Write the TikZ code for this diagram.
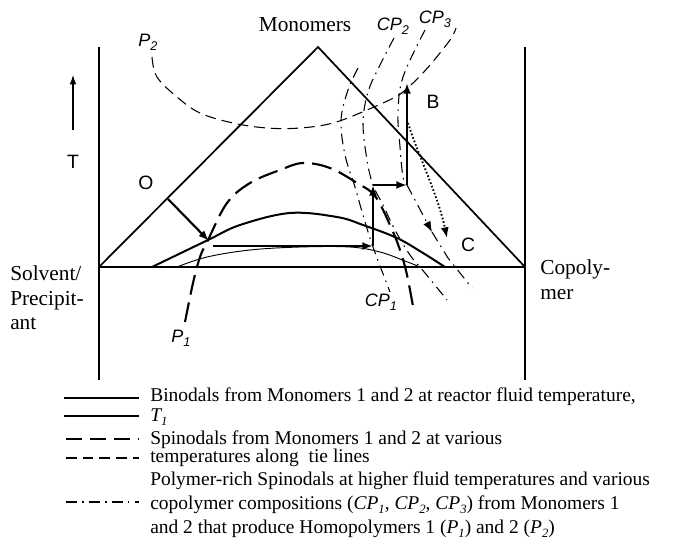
\documentclass[tikz,border=0pt]{standalone}
\usepackage{fontspec}
\setmainfont{Liberation Serif}
\setsansfont{Liberation Sans}
\usetikzlibrary{arrows.meta}
\newcommand{\lowsub}[1]{\raisebox{-0.45ex}{\fontsize{9.5}{10}\selectfont #1}}

\begin{document}
\begin{tikzpicture}[x=7.5pt,y=-7.5pt,
  lab/.style={font=\fontsize{16}{18.4}\selectfont,inner sep=0pt},
  plabel/.style={font=\sffamily\fontsize{14.5}{17}\selectfont,inner sep=0pt},
  cplab/.style={font=\sffamily\itshape\fontsize{13.5}{15}\selectfont,inner sep=0pt},
  leg/.style={font=\fontsize{14.6}{17}\selectfont,anchor=west,inner sep=0pt},
  bino/.style={line width=1.5pt},
  binothin/.style={line width=0.7pt},
  spino/.style={line width=1.6pt,dash pattern=on 15pt off 6pt},
  tieline/.style={line width=0.8pt,dash pattern=on 8pt off 4.5pt},
  cpline/.style={line width=0.8pt,dash pattern=on 8pt off 4pt on 1.2pt off 4pt},
  move/.style={line width=1.6pt,-{Latex[length=8pt,width=6pt]}}]
  \useasboundingbox (0,0) rectangle (67.3,55);

  % Frame and triangle
  \draw[line width=0.8pt] (9.9,4.7) -- (9.9,38.0);
  \draw[line width=0.8pt] (52.5,4.7) -- (52.5,38.0);
  \draw[line width=1.6pt] (9.9,26.7) -- (52.5,26.7);
  \draw[line width=1.3pt] (9.9,26.7) -- (31.8,4.7) -- (52.5,26.7);
  \node[lab] (monomers) at (30.5,2.5) {Monomers};
  \node[lab,align=left,anchor=west] (solvent) at (1.0,29.8) {Solvent/\\Precipit-\\ant};
  \node[lab,align=left,anchor=west] (copolymer) at (54.0,27.95) {Copoly-\\mer};

  % Temperature axis
  \node[plabel] (tlab) at (7.3,16.2) {T};
  \coordinate (tbot) at (7.3,13.0);
  \coordinate (ttop) at (7.3,7.5);
  \draw[line width=0.8pt,-{Latex[length=7pt,width=5pt]}] (tbot) -- (ttop);

  % Binodals
  \draw[bino] plot[smooth,tension=0.6] coordinates {(15.2,26.7) (20.8,24.0) (24.0,22.5) (29.0,21.3) (33.7,21.7) (36.3,22.5) (39.7,23.8) (42.3,25.3) (44.5,26.7)};
  \draw[binothin] plot[smooth,tension=0.6] coordinates {(17.7,26.7) (20.7,25.7) (25.0,25.0) (30.0,24.7) (35.0,24.7) (38.0,25.2) (40.5,26.1) (42.0,26.7)};

  % Spinodals along tie lines
  \draw[spino] plot[smooth,tension=0.6] coordinates {(18.5,32.2) (19.3,28.3) (20.0,25.7) (20.8,24.0) (22.7,20.3) (25.0,18.3) (28.0,17.0) (30.3,16.3) (33.0,16.8) (35.7,18.3) (37.5,19.6) (39.0,22.5) (40.0,25.0) (40.7,27.5) (41.4,31.2)};
  \draw[tieline] plot[smooth,tension=0.6] coordinates {(15.2,5.7) (15.7,7.7) (17.7,9.7) (20.0,11.3) (23.3,12.3) (26.7,12.8) (30.0,12.8) (33.3,12.3) (36.7,11.0) (39.7,9.6) (41.3,8.3) (43.0,6.5) (45.0,4.0) (45.6,2.8)};
  \node[cplab] (p1) at (18.1,33.8) {P\lowsub{1}};
  \node[cplab] (p2) at (14.8,4.2) {P\lowsub{2}};

  % Polymer-rich spinodals
  \draw[cpline] plot[smooth,tension=0.6] coordinates {(35.8,6.8) (34.8,9.0) (34.1,12.0) (34.5,15.5) (35.5,18.7) (36.3,21.5) (37.3,24.7) (39.0,29.2)};
  \draw[cpline] plot[smooth,tension=0.6] coordinates {(39.4,3.8) (38.0,6.5) (36.8,9.2) (36.3,12.3) (36.7,16.0) (37.3,18.5) (38.3,20.5) (39.5,23.0) (41.0,25.5) (42.5,27.3) (44.7,30.0)};
  \draw[cpline] plot[smooth,tension=0.6] coordinates {(42.5,3.0) (40.3,7.7) (39.8,11.3) (40.0,14.7) (40.3,17.7) (40.7,18.5)};
  \draw[cpline] (43.2,23.2) -- (44.8,25.8) -- (47.2,28.8);
  \node[cplab] (cp1) at (38.1,30.2) {CP\lowsub{1}};
  \node[cplab] (cp2) at (39.3,2.6) {CP\lowsub{2}};
  \node[cplab] (cp3) at (43.5,1.9) {CP\lowsub{3}};

  % Reactor path
  \coordinate (o) at (16.8,19.9);
  \coordinate (a) at (20.9,24.1);
  \coordinate (a1) at (21.3,24.6);
  \coordinate (d) at (37.3,24.6);
  \coordinate (e) at (37.3,18.5);
  \coordinate (f) at (40.7,18.5);
  \coordinate (b) at (40.7,8.3);
  \coordinate (bd) at (40.8,12.3);
  \coordinate (c) at (44.7,23.8);
  \coordinate (cc) at (43.2,23.2);
  \draw[move] (o) -- (a);
  \draw[move] (a1) -- (d);
  \draw[move] (d) -- (e);
  \draw[move] (e) -- (f);
  \draw[move] (f) -- (b);
  \draw[line width=1.4pt,dash pattern=on 1.2pt off 1.6pt,-{Latex[length=8pt,width=6pt]}] (bd) .. controls (41.8,15.5) and (43.8,19.5) .. (c);
  \draw[cpline,-{Latex[length=8pt,width=6pt]}] (f) -- (cc);
  \node[plabel] (olab) at (14.6,18.3) {O};
  \node[plabel] (blab) at (43.3,10.2) {B};
  \node[plabel] (clab) at (46.8,24.5) {C};

  % Legend
  \draw[bino] (6.4,39.8) -- (13.9,39.8);
  \draw[line width=1pt] (6.4,41.6) -- (13.9,41.6);
  \draw[spino,dash pattern=on 12pt off 6pt] (6.6,43.9) -- (13.9,43.9);
  \draw[tieline] (6.6,45.8) -- (13.9,45.8);
  \draw[cpline] (6.6,50.2) -- (13.9,50.2);
  \node[leg] (leg1) at (15.0,39.7) {Binodals from Monomers 1 and 2 at reactor fluid temperature,};
  \node[leg] (leg2) at (15.0,41.7) {\textit{T\lowsub{1}}};
  \node[leg] (leg3) at (15.0,43.95) {Spinodals from Monomers 1 and 2 at various};
  \node[leg] (leg4) at (15.0,45.8) {temperatures along\ \ tie lines};
  \node[leg] (leg5) at (15.0,48.1) {Polymer-rich Spinodals at higher fluid temperatures and various};
  \node[leg] (leg6) at (15.0,50.5) {copolymer compositions (\textit{CP\lowsub{1}}, \textit{CP\lowsub{2}}, \textit{CP\lowsub{3}}) from Monomers 1};
  \node[leg] (leg7) at (15.0,52.9) {and 2 that produce Homopolymers 1 (\textit{P\lowsub{1}}) and 2 (\textit{P\lowsub{2}})};
\end{tikzpicture}
\end{document}
